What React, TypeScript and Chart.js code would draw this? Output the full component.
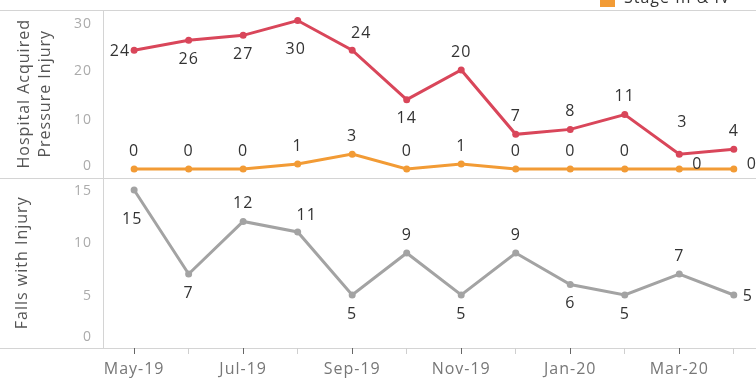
import React, { useEffect, useRef } from 'react';
import { Chart, registerables } from 'chart.js';

Chart.register(...registerables);

// ---- data ----
const MONTHS = ['May-19', 'Jun-19', 'Jul-19', 'Aug-19', 'Sep-19', 'Oct-19', 'Nov-19', 'Dec-19', 'Jan-20', 'Feb-20', 'Mar-20', 'Apr-20'];
const HAPI_TOTAL = [24, 26, 27, 30, 24, 14, 20, 7, 8, 11, 3, 4];
const HAPI_STAGE_3_4 = [0, 0, 0, 1, 3, 0, 1, 0, 0, 0, 0, 0];
const FALLS_WITH_INJURY = [15, 7, 12, 11, 5, 9, 5, 9, 6, 5, 7, 5];
const HAPI_TICKS = [0, 10, 20, 30];
const FALLS_TICKS = [0, 5, 10, 15];
const HAPI_TITLE = ['Hospital Acquired', 'Pressure Injury'];
const FALLS_TITLE = 'Falls with Injury';
const LEGEND_LABEL = 'Stage III & IV';

// ---- label placement codes (style) ----
const HAPI_LABEL_POS = ['l', 'b', 'b', 'B', 'ar', 'b', 'a', 'a', 'a', 'a', 'A', 'a'];
const STAGE_LABEL_POS = ['a', 'a', 'a', 'a', 'a', 'a', 'a', 'a', 'a', 'a', 'ru', 'ru'];
const FALLS_LABEL_POS = ['B', 'b', 'a', 'ar', 'b', 'a', 'b', 'a', 'b', 'b', 'a', 'r'];

const PLACE: Record<string, { dx: number; dy: number; align: CanvasTextAlign }> = {
  a: { dx: 0, dy: -18, align: 'center' },
  A: { dx: 3, dy: -32, align: 'center' },
  b: { dx: 0, dy: 19, align: 'center' },
  B: { dx: -2, dy: 29, align: 'center' },
  ar: { dx: 9, dy: -17, align: 'center' },
  l: { dx: -4, dy: 1, align: 'right' },
  r: { dx: 9, dy: 1, align: 'left' },
  ru: { dx: 13, dy: -5, align: 'left' },
};

const RED = '#d9465a';
const ORANGE = '#f29b35';
const GRAY = '#a3a3a3';
const FONT = '"Open Sans", sans-serif';

const panelPlugin = {
  id: 'panels',
  beforeDraw(chart: any) {
    const ctx = chart.ctx as CanvasRenderingContext2D;
    (ctx as any).letterSpacing = '1px';
    const area = chart.chartArea;
    const yH = chart.scales.yHapi;
    const yF = chart.scales.yFalls;
    const W = chart.width;
    ctx.save();
    ctx.strokeStyle = '#d4d4d4';
    ctx.lineWidth = 1;
    const hl = (y: number) => {
      const yy = Math.round(y) + 0.5;
      ctx.beginPath();
      ctx.moveTo(0, yy);
      ctx.lineTo(W, yy);
      ctx.stroke();
    };
    hl(yH.top);
    hl(yH.bottom);
    hl(yF.bottom);
    const xx = Math.round(area.left) + 0.5;
    ctx.beginPath();
    ctx.moveTo(xx, area.top);
    ctx.lineTo(xx, area.bottom);
    ctx.stroke();
    ctx.restore();
  },
  afterDraw(chart: any) {
    const ctx = chart.ctx as CanvasRenderingContext2D;
    const area = chart.chartArea;
    ctx.save();
    ctx.font = `14px ${FONT}`;
    ctx.fillStyle = '#ababab';
    ctx.textAlign = 'right';
    ctx.textBaseline = 'middle';
    const drawTicks = (scale: any, values: number[]) => {
      values.forEach((v) => {
        let y = scale.getPixelForValue(v) + 1;
        y = Math.min(Math.max(y, scale.top + 14), scale.bottom - 11);
        ctx.fillText(String(v), area.left - 11, y);
      });
    };
    drawTicks(chart.scales.yHapi, HAPI_TICKS);
    drawTicks(chart.scales.yFalls, FALLS_TICKS);

    // partially visible legend at top
    ctx.fillStyle = ORANGE;
    ctx.fillRect(600, -8, 15, 15);
    ctx.fillStyle = '#333';
    ctx.font = `16px ${FONT}`;
    ctx.textAlign = 'left';
    ctx.textBaseline = 'alphabetic';
    ctx.fillText(LEGEND_LABEL, 624, 3);
    ctx.restore();
  },
};

const labelPlugin = {
  id: 'pointLabels',
  afterDatasetsDraw(chart: any) {
    const ctx = chart.ctx as CanvasRenderingContext2D;
    ctx.save();
    ctx.font = `16px ${FONT}`;
    ctx.fillStyle = '#333';
    ctx.textBaseline = 'middle';
    chart.data.datasets.forEach((ds: any, di: number) => {
      const meta = chart.getDatasetMeta(di);
      const positions: string[] = ds.labelPos;
      meta.data.forEach((pt: any, i: number) => {
        const p = PLACE[positions[i]] || PLACE.a;
        ctx.textAlign = p.align;
        ctx.fillText(String(ds.data[i].y), pt.x + p.dx, pt.y + p.dy);
      });
    });
    ctx.restore();
  },
};

const toPoints = (arr: number[]) => arr.map((v, i) => ({ x: i, y: v }));

export default function App() {
  const ref = useRef<HTMLCanvasElement | null>(null);

  useEffect(() => {
    if (!ref.current) return;
    const lineDs = (label: string, data: number[], color: string, axis: string, pos: string[]) => ({
      label,
      data: toPoints(data),
      borderColor: color,
      backgroundColor: color,
      borderWidth: 3,
      pointRadius: 3.5,
      pointBorderWidth: 0,
      pointBackgroundColor: color,
      tension: 0,
      yAxisID: axis,
      labelPos: pos,
    });
    const chart = new Chart(ref.current, {
      type: 'line',
      data: {
        datasets: [
          lineDs('Stage III & IV', HAPI_STAGE_3_4, ORANGE, 'yHapi', STAGE_LABEL_POS),
          lineDs('Hospital Acquired Pressure Injury', HAPI_TOTAL, RED, 'yHapi', HAPI_LABEL_POS),
          lineDs('Falls with Injury', FALLS_WITH_INJURY, GRAY, 'yFalls', FALLS_LABEL_POS),
        ] as any,
      },
      options: {
        animation: false,
        responsive: false,
        devicePixelRatio: 1,
        layout: { padding: { top: 10, left: 0, right: 0, bottom: 0 } },
        plugins: { legend: { display: false }, tooltip: { enabled: false } },
        scales: {
          x: {
            type: 'linear',
            min: -0.571,
            max: 11.334,
            afterBuildTicks: (scale: any) => {
              scale.ticks = MONTHS.map((_, i) => ({ value: i }));
            },
            afterFit: (scale: any) => {
              scale.height = 31;
            },
            ticks: {
              autoSkip: false,
              maxRotation: 0,
              minRotation: 0,
              padding: 6,
              color: '#777',
              font: { family: FONT, size: 16 },
              callback: (v: any) => (Number(v) % 2 === 0 ? MONTHS[Number(v)] : ''),
            },
            grid: {
              display: true,
              drawOnChartArea: false,
              drawTicks: true,
              tickLength: 6,
              color: (c: any) => (c.index % 2 === 0 ? '#666' : '#cfcfcf'),
            },
            border: { display: false },
          },
          yFalls: {
            type: 'linear',
            position: 'left',
            stack: 'panels',
            stackWeight: 170.5,
            min: -0.05,
            max: 16.19,
            ticks: { display: false },
            grid: { display: false, drawTicks: false },
            border: { display: false },
            afterFit: (scale: any) => {
              scale.width = 103;
            },
            title: {
              display: true,
              text: FALLS_TITLE,
              color: '#555',
              font: { family: FONT, size: 16, lineHeight: 1.3 },
              padding: { top: 12, bottom: 0 },
            },
          },
          yHapi: {
            type: 'linear',
            position: 'left',
            stack: 'panels',
            stackWeight: 167.5,
            min: -1.72,
            max: 32.12,
            ticks: { display: false },
            grid: { display: false, drawTicks: false },
            border: { display: false },
            afterFit: (scale: any) => {
              scale.width = 103;
            },
            title: {
              display: true,
              text: HAPI_TITLE,
              color: '#555',
              font: { family: FONT, size: 16, lineHeight: 1.3 },
              padding: { top: 14, bottom: 0 },
            },
          },
        },
      } as any,
      plugins: [panelPlugin, labelPlugin],
    });
    return () => chart.destroy();
  }, []);

  return (
    <div style={{ position: 'fixed', left: 0, top: 0, width: 756, height: 379, background: '#fff' }}>
      <canvas ref={ref} width={756} height={379} style={{ display: 'block', width: 756, height: 379 }} />
    </div>
  );
}
